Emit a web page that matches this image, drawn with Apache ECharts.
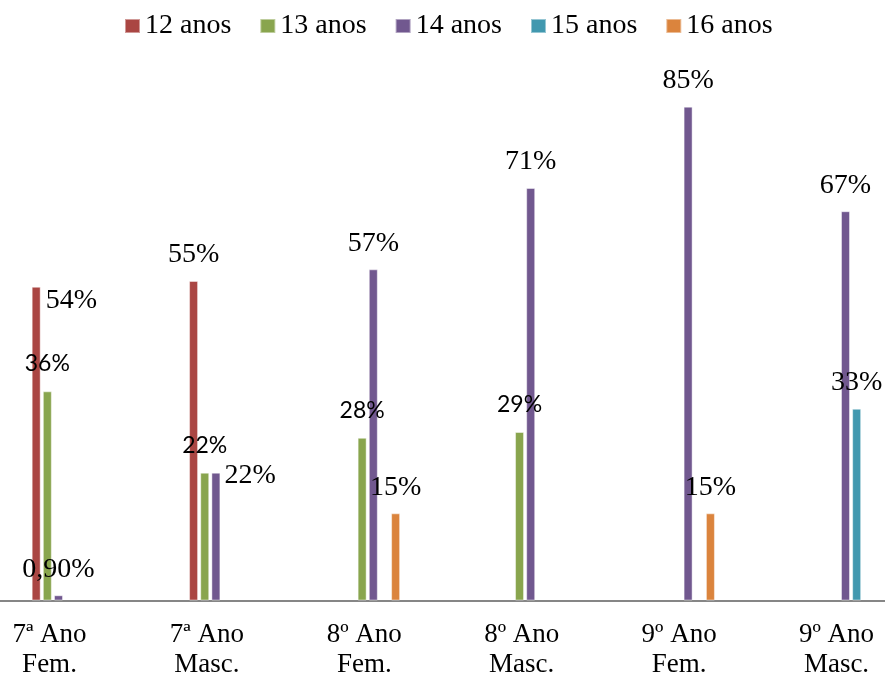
<!DOCTYPE html>
<html>
<head>
<meta charset="utf-8">
<script src="https://cdn.jsdelivr.net/npm/echarts@6/dist/echarts.min.js"></script>
<style>
  html, body { margin: 0; padding: 0; background: #ffffff; }
  #chart { width: 885px; height: 675px; }
</style>
</head>
<body>
<div id="chart"></div>
<script>
// ---- data ----
const categories = ['7ª Ano\nFem.', '7ª Ano\nMasc.', '8º Ano\nFem.', '8º Ano\nMasc.', '9º Ano\nFem.', '9º Ano\nMasc.'];
const seriesNames = ['12 anos', '13 anos', '14 anos', '15 anos', '16 anos'];
const anos12 = [54, 55, null, null, null, null];
const anos13 = [36, 22, 28, 29, null, null];
const anos14 = [0.9, 22, 57, 71, 85, 67];
const anos15 = [null, null, null, null, null, 33];
const anos16 = [null, null, 15, null, 15, null];

// ---- styling ----
const colors = ['#AA4643', '#89A54E', '#71588F', '#4198AF', '#DB843D'];
const serif = 'Liberation Serif';
const sans = 'Lato';
// labels that sit to the right of the bar top instead of above it: [series-category] -> offset
const sideLabels = { '0-0': [5, 0], '2-1': [4, -11] };

function fmt(v) {
  return (Number.isInteger(v) ? String(v) : v.toFixed(2).replace('.', ',')) + '%';
}

const allData = [anos12, anos13, anos14, anos15, anos16];

const series = allData.map(function (arr, si) {
  const isSans = si === 1;
  return {
    name: seriesNames[si],
    type: 'bar',
    barWidth: 9,
    barGap: '24%',
    itemStyle: {
      color: colors[si],
      borderColor: 'rgba(255,255,255,0.45)',
      borderWidth: 1
    },
    label: {
      show: true,
      position: 'top',
      distance: isSans ? 16 : 12,
      color: '#000',
      fontFamily: isSans ? sans : serif,
      fontSize: isSans ? 23 : 28,
      lineHeight: isSans ? 23 : 28,
      formatter: function (p) { return fmt(p.value); }
    },
    data: arr.map(function (v, ci) {
      const key = si + '-' + ci;
      if (v !== null && sideLabels[key]) {
        return {
          value: v,
          label: {
            position: ['100%', 0],
            align: 'left',
            verticalAlign: 'top',
            offset: sideLabels[key]
          }
        };
      }
      return v === null ? '-' : v;
    })
  };
});

const chart = echarts.init(document.getElementById('chart'));
chart.setOption({
  animation: false,
  backgroundColor: '#ffffff',
  legend: {
    data: seriesNames,
    left: 124,
    top: 12,
    padding: 0,
    icon: 'rect',
    itemWidth: 15,
    itemHeight: 14,
    itemGap: 28,
    textStyle: { fontFamily: serif, fontSize: 28, color: '#000' }
  },
  grid: {
    left: -20.2,
    width: 944.4,
    top: 19.5,
    bottom: 74.5,
    containLabel: false,
    outerBoundsMode: 'none'
  },
  xAxis: {
    type: 'category',
    data: categories,
    axisLine: { lineStyle: { color: '#868686', width: 2 } },
    axisTick: { show: false },
    axisLabel: {
      interval: 0,
      margin: 19,
      color: '#000',
      fontFamily: serif,
      fontSize: 27,
      lineHeight: 30,
      padding: [0, 18, 0, 0]
    }
  },
  yAxis: {
    type: 'value',
    min: 0,
    max: 100,
    show: false,
    splitLine: { show: false }
  },
  series: series
});
</script>
</body>
</html>
